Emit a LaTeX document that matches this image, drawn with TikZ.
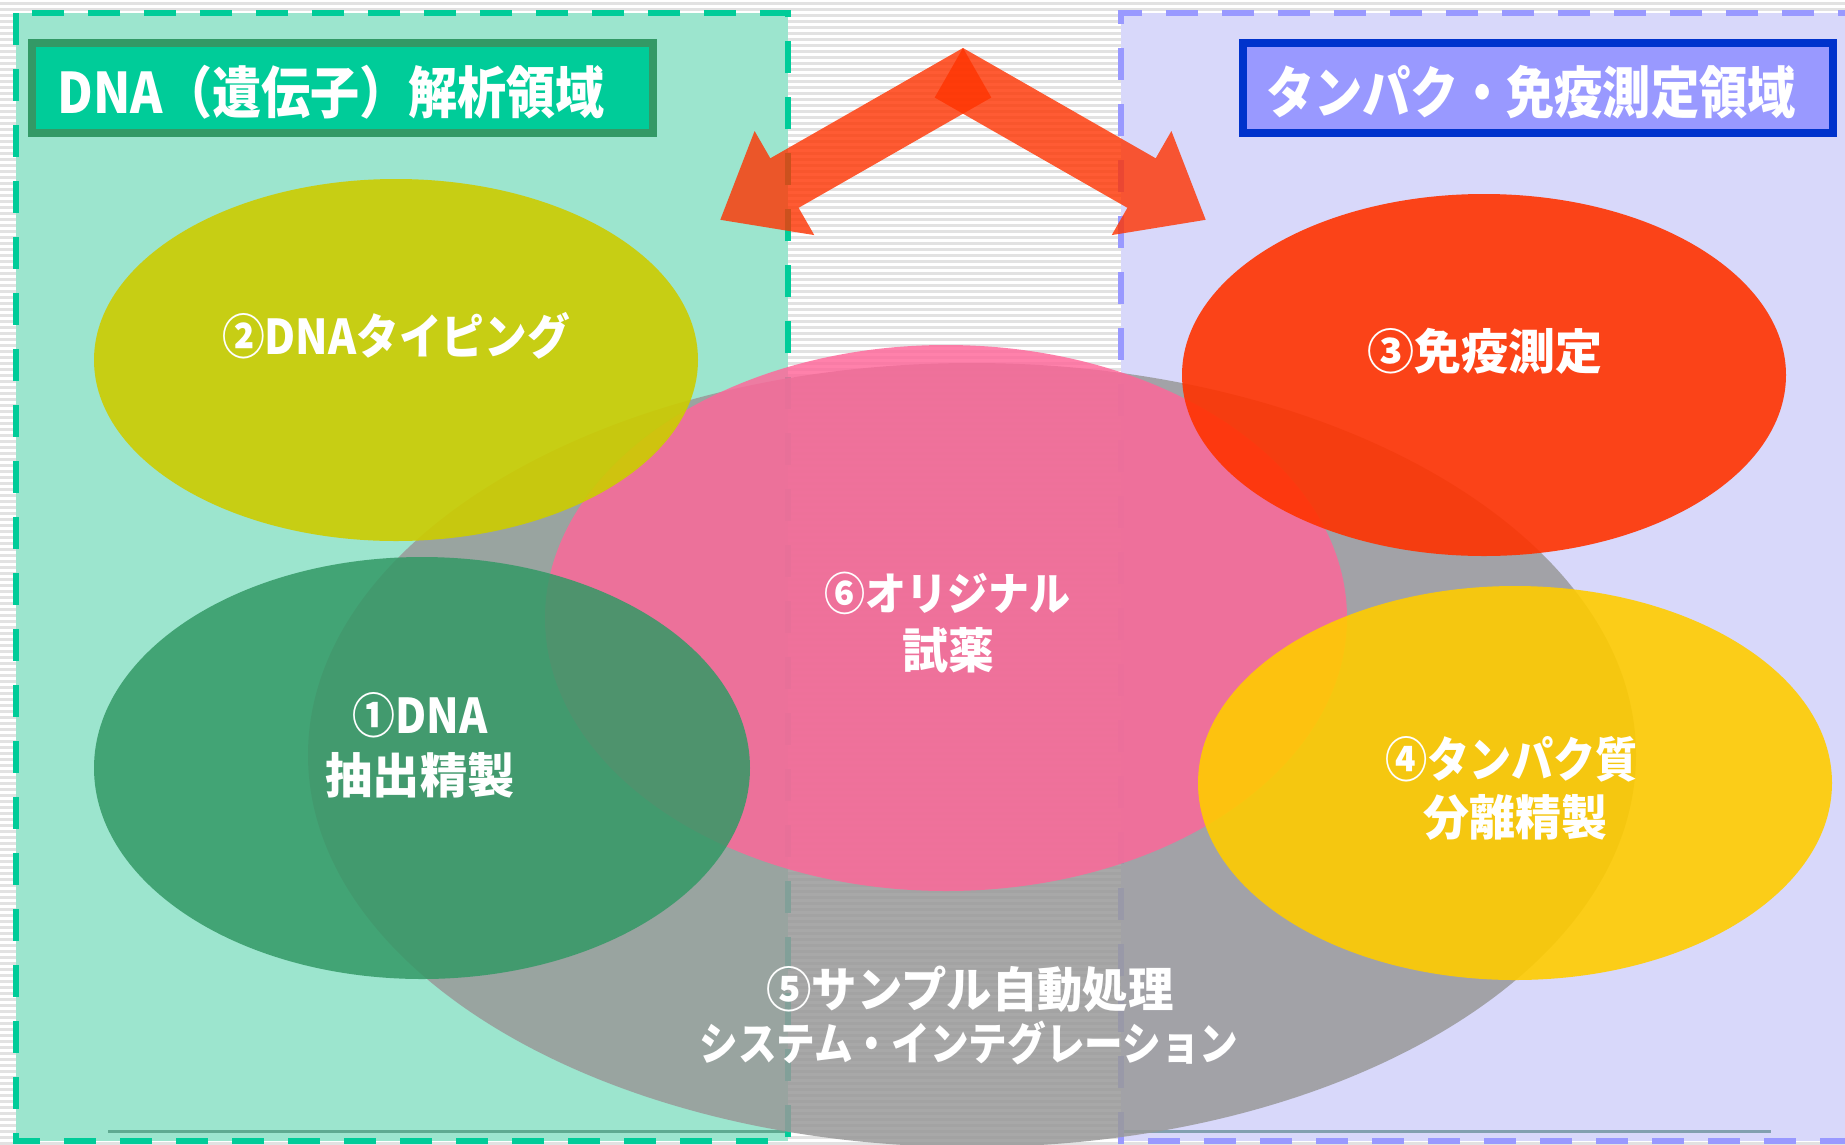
\documentclass[tikz,border=0pt]{standalone}
\usepackage{fontspec}
\usepackage{graphicx}
\setmainfont{Noto Sans CJK JP}
\usetikzlibrary{shapes.geometric}
\definecolor{stripe}{RGB}{226,226,226}
\definecolor{mintbg}{RGB}{156,229,206}
\definecolor{lavbg}{RGB}{216,216,250}
\definecolor{dashgreen}{RGB}{0,204,153}
\definecolor{dashblue}{RGB}{153,153,255}
\definecolor{blineG}{RGB}{95,170,145}
\definecolor{blineB}{RGB}{130,160,175}
\definecolor{titleG}{RGB}{0,204,153}
\definecolor{titleGb}{RGB}{51,153,102}
\definecolor{titleB}{RGB}{153,153,255}
\definecolor{titleBb}{RGB}{0,51,204}
\definecolor{cgray}{RGB}{153,153,153}
\definecolor{cpink}{RGB}{255,102,153}
\definecolor{colive}{RGB}{204,204,0}
\definecolor{cred}{RGB}{255,51,0}
\definecolor{cgreen}{RGB}{51,153,102}
\definecolor{cyellow}{RGB}{255,204,0}
\newcommand{\fitw}[2]{\resizebox{#1}{\height}{#2}}
\begin{document}
\begin{tikzpicture}[x=1pt,y=-1pt,
  lbl/.style={text=white,inner sep=0pt,font=\bfseries\fontsize{48pt}{58pt}\selectfont},
  lblsmall/.style={lbl,font=\bfseries\fontsize{45pt}{54pt}\selectfont},
  titletext/.style={text=white,inner sep=0pt,font=\bfseries\fontsize{56pt}{66pt}\selectfont},
  ell/.style={ellipse,inner sep=0pt,draw=none},
  titlebox/.style={line width=8pt,inner sep=0pt,minimum height=90pt},
  regionborder/.style={line width=6pt,dash pattern=on 32pt off 24pt},
  arrowshape/.style={fill=cred,fill opacity=0.8}
]
\useasboundingbox (0,0) rectangle (1845,1144);
\clip (0,0) rectangle (1845,1144);
% background with stripes
\fill[white] (0,0) rectangle (1845,1144);
\foreach \yy in {2,8,...,1142} \fill[stripe] (0,\yy) rectangle (1845,\yy+2.5);
% regions
\fill[mintbg] (16,13) rectangle (788,1141);
\fill[lavbg] (1121,13) rectangle (1870,1141);
\draw[blineG,line width=3pt] (108,1131) -- (788,1131);
\draw[blineB,line width=3pt] (1121,1131) -- (1771,1131);
\draw[dashgreen,regionborder] (16,13) rectangle (788,1141);
\draw[dashblue,regionborder] (1870,13) -- (1121,13) -- (1121,1141) -- (1870,1141);
% title boxes
\node[titlebox,draw=titleGb,fill=titleG,minimum width=621pt] (tbL) at (342.5,88) {};
\node[titletext] (tbLtext) at (331,92) {\fitw{547pt}{DNA（遺伝子）解析領域}};
\node[titlebox,draw=titleBb,fill=titleB,minimum width=590pt] (tbR) at (1538,88) {};
\node[titletext] (tbRtext) at (1531,92) {\fitw{530pt}{タンパク・免疫測定領域}};
% ellipses
\node[ell,fill=cgray,fill opacity=0.85,minimum width=1328pt,minimum height=784pt] (e5) at (972,755) {};
\node[ell,fill=cpink,fill opacity=0.82,minimum width=802pt,minimum height=546pt] (e6) at (946,618) {};
\node[ell,fill=colive,fill opacity=0.9,minimum width=604pt,minimum height=362pt] (e2) at (396,360) {};
\node[ell,fill=cred,fill opacity=0.9,minimum width=604pt,minimum height=362pt] (e3) at (1484,375) {};
\node[ell,fill=cgreen,fill opacity=0.85,minimum width=656pt,minimum height=422pt] (e1) at (422,768) {};
\node[ell,fill=cyellow,fill opacity=0.9,minimum width=634pt,minimum height=394pt] (e4) at (1515,783) {};
% double arrow (two overlapping block arrows)
\fill[arrowshape] (963,48) -- (770.3,158.3) -- (754.6,131.0) -- (720.3,219.8) -- (814.3,235.1) -- (798.6,207.8) -- (991.3,97.5) -- cycle;
\fill[arrowshape] (963,48) -- (1155.7,158.3) -- (1171.4,131.0) -- (1205.7,219.8) -- (1111.7,235.1) -- (1127.4,207.8) -- (934.7,97.5) -- cycle;
% labels
\node[lbl] (t2) at (396,336) {\fitw{348pt}{②DNAタイピング}};
\node[lbl] (t3) at (1484.5,351.5) {\fitw{235pt}{③免疫測定}};
\node[lblsmall] (t6a) at (947,593) {\fitw{246pt}{⑥オリジナル}};
\node[lbl] (t6b) at (948,650) {\fitw{92pt}{試薬}};
\node[lbl] (t1a) at (420,715) {\fitw{135pt}{①DNA}};
\node[lbl] (t1b) at (420,775) {\fitw{189pt}{抽出精製}};
\node[lbl] (t4a) at (1511.5,759) {\fitw{253pt}{④タンパク質}};
\node[lbl] (t4b) at (1515,817.5) {\fitw{184pt}{分離精製}};
\node[lbl] (t5a) at (970,989) {\fitw{407pt}{⑤サンプル自動処理}};
\node[lblsmall] (t5b) at (969,1043) {\fitw{539pt}{システム・インテグレーション}};
\end{tikzpicture}
\end{document}
